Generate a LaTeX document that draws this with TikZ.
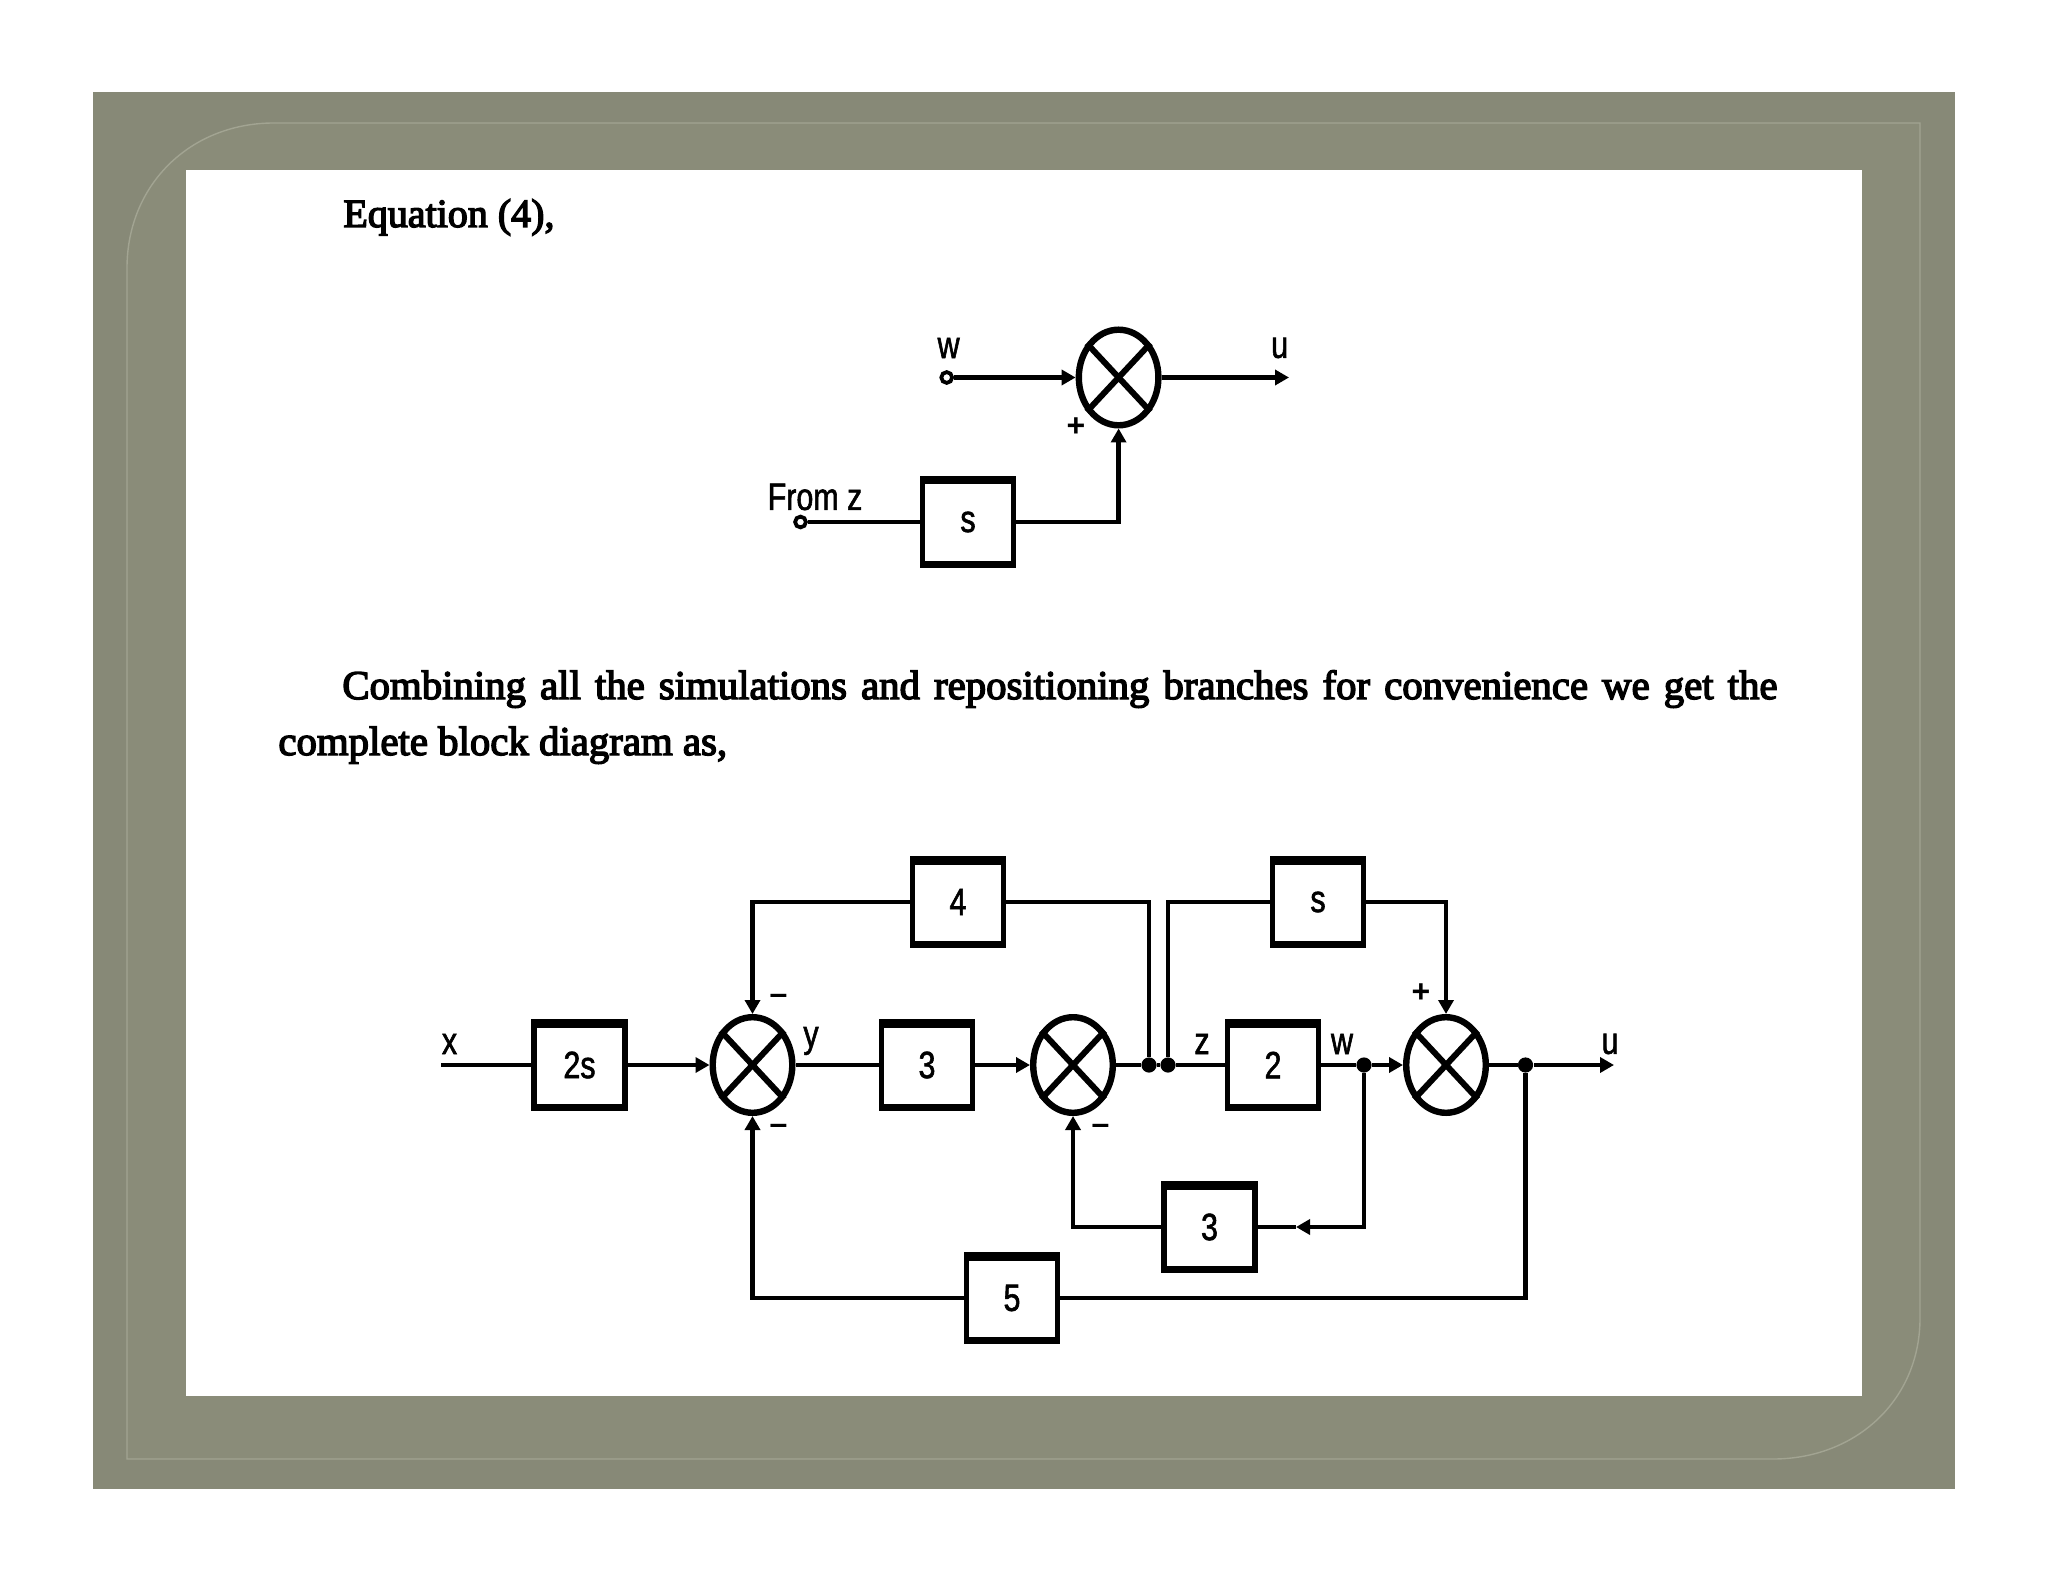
\documentclass[tikz,border=0pt]{standalone}
\usepackage{fontspec}
\setmainfont{Liberation Serif}
\newfontfamily\bodyf[FakeBold=3.5]{Liberation Serif}
\newfontfamily\labf[FakeStretch=0.8,FakeBold=1.5]{Liberation Sans}
\newfontfamily\sgnf{Liberation Sans Bold}
\usetikzlibrary{shapes.geometric,arrows.meta}
\definecolor{outerc}{HTML}{878977}
\definecolor{bandc}{HTML}{8A8C79}
\definecolor{linec}{HTML}{A2A492}
\tikzset{
  conn/.style={line width=2.3pt,black},
  tipped/.style={conn,-{Triangle[length=7pt,width=7.5pt]}},
  blk/.style={draw,black,line width=2.6pt,rectangle,minimum width=45.5pt,minimum height=43.5pt,inner sep=0pt,
    font=\labf\fontsize{19}{19}\selectfont,
    path picture={
      \fill[black] ([yshift=-3pt]path picture bounding box.north west) rectangle (path picture bounding box.north east);
      \fill[black] ([yshift=2.2pt]path picture bounding box.south west) rectangle (path picture bounding box.south east);
    }},
  sumj/.style={draw,black,line width=3.2pt,ellipse,minimum width=39.8pt,minimum height=47.8pt,inner sep=0pt},
  xline/.style={line width=3pt,black},
  jdot/.style={circle,fill=black,minimum size=7.6pt,inner sep=0pt},
  term/.style={circle,draw,black,fill=white,line width=1.9pt,minimum size=5.4pt,inner sep=0pt},
  lab/.style={font=\labf\fontsize{19}{19}\selectfont,inner sep=0pt},
  sgn/.style={font=\sgnf\fontsize{16}{16}\selectfont,inner sep=0pt},
  para/.style={font=\bodyf\fontsize{20.4}{24}\selectfont,inner sep=0pt,anchor=base west},
}
\newcommand{\crossin}[1]{
  \draw[xline] (#1.47) -- (#1.227);
  \draw[xline] (#1.133) -- (#1.313);
}
\begin{document}
\begin{tikzpicture}[x=0.5pt,y=-0.5pt]
\useasboundingbox (0,0) rectangle (2048,1582);
\fill[white] (0,0) rectangle (2048,1582);
% frame
\fill[outerc] (93,92) rectangle (1955,1489);
\filldraw[fill=bandc,draw=linec,line width=0.7pt]
  (127,268) .. controls (127,185) and (190,123) .. (274,123)
  -- (1920,123) -- (1920,1318)
  .. controls (1920,1400) and (1856,1459) .. (1773,1459)
  -- (127,1459) -- cycle;
\fill[white] (186,170) rectangle (1862,1396);
% text
\node[para,font=\bodyf\fontsize{20}{24}\selectfont] (eqn) at (343,227) {Equation (4),};
\node[para] (p1) at (342,699) {\makebox[717.5pt][s]{Combining all the simulations and repositioning branches for convenience we get the}};
\node[para] (p2) at (278,755) {complete block diagram as,};
% upper diagram
\node[sumj] (ts) at (1118.6,377.5) {};
\crossin{ts}
\node[term] (tw) at (946.7,377.5) {};
\coordinate (tu) at (1289,377.5);
\node[blk] (tb) at (968,522) {\raisebox{-1pt}{s}};
\node[term] (tz) at (800.5,522) {};
\draw[tipped] (tw) -- (ts.west);
\draw[tipped] (ts.east) -- (tu);
\draw[conn] (tz) -- (tb.west);
\draw[tipped] (tb.east) -| (ts.south);
\node[lab] (twl) at (948.6,348) {w};
\node[lab] (tul) at (1279.6,348) {u};
\node[sgn] (tpl) at (1076,427) {+};
\node[lab,anchor=center] (tfz) at (815,497) {From z};
% lower diagram
\coordinate (xs) at (441,1065);
\coordinate (ue) at (1614,1065);
\node[blk] (b2s) at (579.5,1065) {2s};
\node[sumj] (s1) at (752.5,1065) {};
\crossin{s1}
\node[blk] (b3) at (927,1065) {3};
\node[sumj] (s2) at (1073,1065) {};
\crossin{s2}
\node[jdot] (j1) at (1149,1065) {};
\node[jdot] (j2) at (1168,1065) {};
\node[blk] (b2) at (1273,1065) {2};
\node[jdot] (jw) at (1364,1065) {};
\node[sumj] (s3) at (1446,1065) {};
\crossin{s3}
\node[jdot] (ju) at (1525.5,1065) {};
\node[blk] (b4) at (958,902) {4};
\node[blk] (bs) at (1318,902) {s};
\node[blk] (b3l) at (1209.5,1227) {3};
\node[blk] (b5) at (1012,1298) {5};
\coordinate (ma) at (1296,1227);
\draw[conn] (xs) -- (b2s.west);
\draw[tipped] (b2s.east) -- (s1.west);
\draw[conn] (s1.east) -- (b3.west);
\draw[tipped] (b3.east) -- (s2.west);
\draw[conn] (s2.east) -- (j1) -- (j2) -- (b2.west);
\draw[conn] (b2.east) -- (jw);
\draw[tipped] (jw) -- (s3.west);
\draw[conn] (s3.east) -- (ju);
\draw[tipped] (ju) -- (ue);
\draw[tipped] (b4.west) -| (s1.north);
\draw[conn] (b4.east) -| (j1);
\draw[conn] (j2) |- (bs.west);
\draw[tipped] (bs.east) -| (s3.north);
\draw[tipped] (jw) |- (ma);
\draw[conn] (ma) -- (b3l.east);
\draw[tipped] (b3l.west) -| (s2.south);
\draw[conn] (ju) |- (b5.east);
\draw[tipped] (b5.west) -| (s1.south);
\node[lab] (lx) at (449.5,1044) {x};
\node[lab] (ly) at (811,1041) {y};
\node[lab] (lz) at (1202,1044) {z};
\node[lab] (lw) at (1342,1044) {w};
\node[lab] (lu) at (1610,1044) {u};
\node[sgn] (m1) at (778.5,999) {–};
\node[sgn] (m2) at (778.5,1129) {–};
\node[sgn] (m3) at (1100.5,1129) {–};
\node[sgn] (p3) at (1421,993) {+};
\end{tikzpicture}
\end{document}
